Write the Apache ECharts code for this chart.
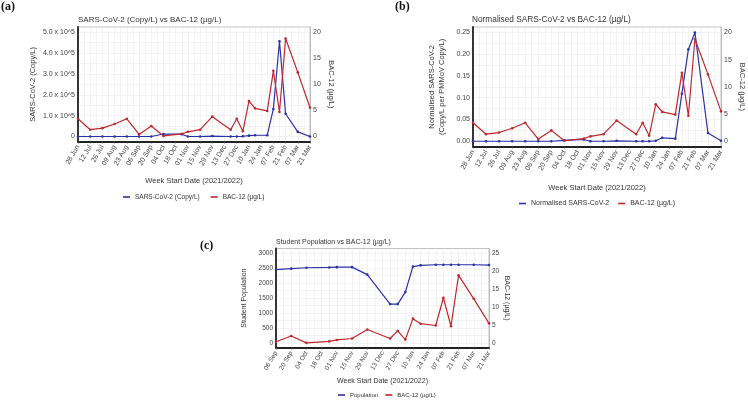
<!DOCTYPE html>
<html>
<head>
<meta charset="utf-8">
<script src="https://cdn.jsdelivr.net/npm/echarts@6/dist/echarts.min.js"></script>
<style>
  html, body { margin: 0; padding: 0; background: #fff; }
  #main { width: 748px; height: 400px; }
</style>
</head>
<body>
<div id="main"></div>
<script>
// week start dates of the samples, panels (a) and (b)
const weeks = ['2021-06-28', '2021-07-12', '2021-07-26', '2021-08-09', '2021-08-23', '2021-09-06',
  '2021-09-20', '2021-10-04', '2021-10-25', '2021-11-01', '2021-11-15', '2021-11-29', '2021-12-20',
  '2021-12-27', '2022-01-03', '2022-01-10', '2022-01-17', '2022-01-31', '2022-02-07', '2022-02-14',
  '2022-02-21', '2022-03-07', '2022-03-21'];
const bac12 = [3.4, 1.3, 1.6, 2.4, 3.4, 0.4, 2.0, 0.1, 0.5, 0.9, 1.3, 3.8, 1.3, 3.4, 1.0, 6.8, 5.4, 4.9,
  12.6, 4.7, 18.8, 12.3, 5.5];
const sarsCopies = [0, 0, 0, 0, 0, 0, 0, 12000, 11000, 0, 0, 2000, 0, 0, 1000, 4000, 6000, 6000,
  132000, 457000, 109000, 22000, 0];
const sarsNorm = [0, 0, 0, 0, 0, 0, 0, 0.002, 0.004, 0, 0, 0.001, 0, 0, 0, 0.001, 0.008, 0.006,
  0.109, 0.211, 0.250, 0.019, 0.001];

// panel (c) starts at 06 Sep
const popWeeks = weeks.slice(5);
const population = [2450, 2480, 2510, 2520, 2530, 2530, 2280, 1300, 1300, 1700, 2550, 2590, 2610,
  2610, 2610, 2610, 2610, 2600];
const bac12Pop = bac12.slice(5);

// tick labels
const xLabelsAB = ['28 Jun', '12 Jul', '26 Jul', '09 Aug', '23 Aug', '06 Sep', '20 Sep', '04 Oct', '18 Oct',
  '01 Nov', '15 Nov', '29 Nov', '13 Dec', '27 Dec', '10 Jan', '24 Jan', '07 Feb', '21 Feb', '07 Mar', '21 Mar'];
const xLabelsC = ['06 Sep', '20 Sep', '04 Oct', '18 Oct', '01 Nov', '15 Nov', '29 Nov', '13 Dec', '27 Dec',
  '10 Jan', '24 Jan', '07 Feb', '21 Feb', '07 Mar', '21 Mar'];
const sarsTicks = [0, 100000, 200000, 300000, 400000, 500000];
const sarsTickLabels = ['0', '1.0 x 10^5', '2.0 x 10^5', '3.0 x 10^5', '4.0 x 10^5', '5.0 x 10^5'];
const normTicks = [0, 0.05, 0.1, 0.15, 0.2, 0.25];
const normTickLabels = ['0.00', '0.05', '0.10', '0.15', '0.20', '0.25'];
const bacTicks = [0, 5, 10, 15, 20];
const bacTicksC = [0, 5, 10, 15, 20, 25];
const popTicks = [0, 500, 1000, 1500, 2000, 2500, 3000];

const BLUE = '#2b31a6';
const RED = '#c0272d';
const FONT = 'Liberation Sans, Arial, sans-serif';
const SERIF = 'Liberation Serif, serif';
const GRIDC = '#ebebeb';

function dayOf(d, start) {
  return Math.round((Date.parse(d) - Date.parse(start)) / 86400000);
}
function pairs(dates, vals, start) {
  return dates.map((d, i) => [dayOf(d, start), vals[i]]);
}
// grid line positions: label steps and the half steps between them
function halfSteps(ticks) {
  const out = [];
  for (let i = 0; i < ticks.length; i++) {
    out.push(ticks[i]);
    if (i < ticks.length - 1) out.push((ticks[i] + ticks[i + 1]) / 2);
  }
  return out;
}

function xAxis(gridIndex, max, labels, fs, gap) {
  return {
    gridIndex: gridIndex, type: 'value', min: 0, max: max, interval: 14,
    name: 'Week Start Date (2021/2022)', nameLocation: 'middle', nameGap: gap,
    nameTextStyle: { fontSize: fs + 0.5, color: '#333', fontFamily: FONT },
    axisLine: { show: true, onZero: false, lineStyle: { color: '#222', width: 1.8 } },
    axisTick: { show: true, length: 2, lineStyle: { color: '#555', width: 0.6 } },
    axisLabel: {
      rotate: 60, fontSize: fs, color: '#444', margin: 4, fontFamily: FONT,
      formatter: v => labels[Math.round(v / 14)]
    },
    splitLine: { show: true, lineStyle: { color: GRIDC, width: 0.6 } },
    minorTick: { show: false, splitNumber: 2 },
    minorSplitLine: { show: true, lineStyle: { color: GRIDC, width: 0.6 } }
  };
}

function leftAxis(gridIndex, min, max, ticks, labels, name, gap, fs) {
  return {
    gridIndex: gridIndex, type: 'value', position: 'left', min: min, max: max,
    name: name, nameLocation: 'middle', nameGap: gap,
    nameTextStyle: { fontSize: fs + 0.5, color: '#333', fontFamily: FONT, lineHeight: 10 },
    axisLine: { show: true, lineStyle: { color: '#222', width: 1.8 } },
    axisTick: { show: false, customValues: halfSteps(ticks) },
    axisLabel: {
      customValues: ticks, fontSize: fs, color: '#444', margin: 3, fontFamily: FONT,
      formatter: v => labels[ticks.indexOf(v)]
    },
    splitLine: { show: true, lineStyle: { color: GRIDC, width: 0.6 } }
  };
}

function rightAxis(gridIndex, min, max, ticks, gap, fs) {
  return {
    gridIndex: gridIndex, type: 'value', position: 'right', min: min, max: max,
    name: 'BAC-12 (µg/L)', nameLocation: 'middle', nameGap: gap, nameRotate: -90,
    nameTextStyle: { fontSize: fs + 0.5, color: '#333', fontFamily: FONT },
    axisLine: { show: true, lineStyle: { color: '#b0b0b0', width: 0.8 } },
    axisTick: { show: false, customValues: ticks },
    axisLabel: { customValues: ticks, fontSize: fs, color: '#444', margin: 3, fontFamily: FONT },
    splitLine: { show: false }
  };
}

function line(name, xi, yi, data, color) {
  return {
    name: name, type: 'line', xAxisIndex: xi, yAxisIndex: yi, data: data,
    symbol: 'circle', symbolSize: 2.6, showSymbol: true,
    lineStyle: { color: color, width: 1.2 }, itemStyle: { color: color }
  };
}

function legend(left, top, names, fs, gap) {
  return {
    left: left, top: top, padding: 0, data: names, icon: 'rect', itemWidth: 7, itemHeight: 1.6,
    itemGap: gap, selectedMode: false,
    textStyle: { fontSize: fs, color: '#333', fontFamily: FONT }
  };
}

function panelTitle(text, left, top, fs, serif) {
  return {
    text: text, left: left, top: top, padding: 0,
    textStyle: serif
      ? { fontSize: fs, fontWeight: 'bold', fontFamily: SERIF, color: '#111' }
      : { fontSize: fs, fontWeight: 'normal', fontFamily: FONT, color: '#333' }
  };
}

const gridBase = { show: true, backgroundColor: '#fff', borderColor: '#b3b3b3', borderWidth: 0.8, containLabel: false };

let myChart = echarts.init(document.getElementById('main'));
let option = {
  animation: false,
  backgroundColor: '#fff',
  textStyle: { fontFamily: FONT },
  title: [
    panelTitle('(a)', 1, 1, 12, true),
    panelTitle('(b)', 395, 1, 12, true),
    panelTitle('(c)', 200, 240, 12, true),
    panelTitle('SARS-CoV-2 (Copy/L) vs BAC-12 (µg/L)', 78, 15.5, 8, false),
    panelTitle('Normalised SARS-CoV-2 vs BAC-12 (µg/L)', 472, 15.5, 8.3, false),
    panelTitle('Student Population vs BAC-12 (µg/L)', 276, 238.5, 7, false)
  ],
  grid: [
    Object.assign({ left: 78, top: 27, width: 232, height: 114.7 }, gridBase),
    Object.assign({ left: 473, top: 27, width: 248, height: 119.7 }, gridBase),
    Object.assign({ left: 276, top: 248.5, width: 213, height: 99.2 }, gridBase)
  ],
  xAxis: [
    xAxis(0, 266, xLabelsAB, 7, 35),
    xAxis(1, 266, xLabelsAB, 7, 37),
    xAxis(2, 196, xLabelsC, 6.5, 30)
  ],
  yAxis: [
    leftAxis(0, -25000, 525000, sarsTicks, sarsTickLabels, 'SARS-CoV-2 (Copy/L)', 40, 7),
    rightAxis(0, -1, 21, bacTicks, 17, 7),
    leftAxis(1, -0.0125, 0.2625, normTicks, normTickLabels, 'Normalised SARS-CoV-2\n(Copy/L per PMMoV Copy/L)', 26, 7),
    rightAxis(1, -1, 21, bacTicks, 17, 7),
    leftAxis(2, -150, 3150, popTicks, popTicks.map(String), 'Student Population', 27, 6.5),
    rightAxis(2, -1.25, 26.25, bacTicksC, 14, 6.5)
  ],
  legend: [
    legend(123, 193.5, ['SARS-CoV-2 (Copy/L)', 'BAC-12 (µg/L)'], 6.5, 11),
    legend(519, 200, ['Normalised SARS-CoV-2', 'BAC-12 (µg/L)'], 7, 9),
    legend(338, 392, ['Population', 'BAC-12 (µg/L)'], 6, 7)
  ],
  series: [
    line('SARS-CoV-2 (Copy/L)', 0, 0, pairs(weeks, sarsCopies, weeks[0]), BLUE),
    line('BAC-12 (µg/L)', 0, 1, pairs(weeks, bac12, weeks[0]), RED),
    line('Normalised SARS-CoV-2', 1, 2, pairs(weeks, sarsNorm, weeks[0]), BLUE),
    line('BAC-12 (µg/L)', 1, 3, pairs(weeks, bac12, weeks[0]), RED),
    line('Population', 2, 4, pairs(popWeeks, population, popWeeks[0]), BLUE),
    line('BAC-12 (µg/L)', 2, 5, pairs(popWeeks, bac12Pop, popWeeks[0]), RED)
  ]
};
myChart.setOption(option);
</script>
</body>
</html>
